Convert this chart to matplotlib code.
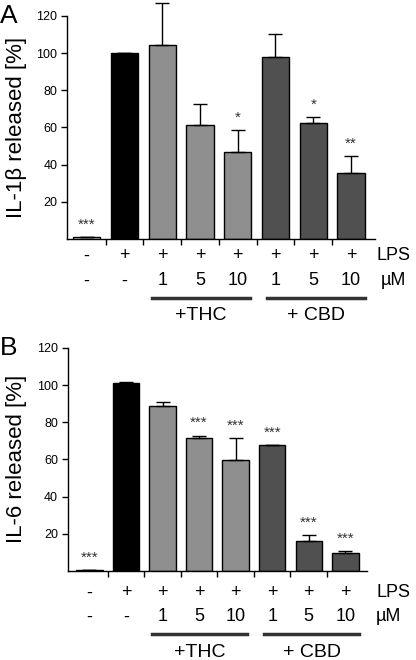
import numpy as np
import matplotlib
matplotlib.use('Agg')
import matplotlib.pyplot as plt

plt.rcParams['font.family'] = ['Liberation Sans', 'DejaVu Sans']

lps_row = ['-', '+', '+', '+', '+', '+', '+', '+']
dose_row = ['-', '-', '1', '5', '10', '1', '5', '10']
colors = ['white', 'black', '#8f8f8f', '#8f8f8f', '#8f8f8f', '#505050', '#505050', '#505050']

il1b_mean = [1, 100, 104.5, 61.5, 46.5, 98, 62.5, 35.5]
il1b_err = [0, 0, 22.5, 11, 12, 12, 3, 9]
il1b_stars = ['***', '', '', '', '*', '', '*', '**']

il6_mean = [0.4, 101, 88.8, 71.3, 59.8, 67.5, 16.3, 9.6]
il6_err = [0, 0.4, 2, 1.5, 11.5, 0.3, 3, 1]
il6_stars = ['***', '', '', '***', '***', '***', '***', '***']

groups = ['+THC', '+ CBD']
group_spans = [(1.72, 4.32), (4.78, 7.38)]

fig = plt.figure(figsize=(4.16, 6.6), dpi=100)


def panel(rect, xlim, means, errs, stars, ylabel, letter, rows_y, unit_x):
    ax = fig.add_axes(rect)
    x = np.arange(len(means))
    ax.bar(x, means, width=0.72, color=colors, edgecolor='black', linewidth=1)
    ax.errorbar(x, means, yerr=[np.zeros(len(errs)), errs], fmt='none',
                ecolor='black', elinewidth=1, capsize=5, capthick=1, clip_on=False)
    for xi, m, e, s in zip(x, means, errs, stars):
        if s:
            ax.text(xi, m + e + 3, s, ha='center', va='bottom', fontsize=11, color='#333333')
    ax.set_xlim(*xlim)
    ax.set_ylim(0, 120)
    ax.set_yticks([20, 40, 60, 80, 100, 120])
    ax.tick_params(axis='y', labelsize=9, length=4, width=1, pad=3)
    ax.set_xticks(x[:-1] + 0.5)
    ax.set_xticklabels([])
    ax.tick_params(axis='x', length=4, width=1, direction='out')
    for side in ['top', 'right']:
        ax.spines[side].set_visible(False)
    ax.spines['left'].set_linewidth(1)
    ax.spines['bottom'].set_linewidth(1)
    ax.set_ylabel(ylabel, fontsize=16, labelpad=7)

    tr = ax.get_xaxis_transform()
    y1, y2, yl, yg = rows_y
    for xi, a, b in zip(x, lps_row, dose_row):
        ax.text(xi, y1, a, transform=tr, ha='center', va='center', fontsize=13)
        ax.text(xi, y2, b, transform=tr, ha='center', va='center', fontsize=13)
    for name, (a, b) in zip(groups, group_spans):
        ax.plot([a, b], [yl, yl], transform=tr, color='#333333', lw=2.5, clip_on=False)
        ax.text((a + b) / 2, yg, name, transform=tr, ha='center', va='center', fontsize=14)
    # row captions at the right edge, placed in figure coordinates
    bot = rect[1]
    h = rect[3]
    fig.text(0.906, bot + y1 * h, 'LPS', ha='left', va='center', fontsize=13)
    fig.text(unit_x, bot + y2 * h, 'µM', ha='left', va='center', fontsize=13)
    fig.text(0.0, bot + h, letter, fontsize=19, ha='left', va='center')
    return ax


panel([0.161, 0.638, 0.740, 0.338], (-0.52, 7.63), il1b_mean, il1b_err, il1b_stars,
      'IL-1β released [%]', 'A', (-0.076, -0.188, -0.265, -0.345), 0.915)
panel([0.163, 0.135, 0.719, 0.338], (-0.59, 7.59), il6_mean, il6_err, il6_stars,
      'IL-6 released [%]', 'B', (-0.099, -0.206, -0.283, -0.368), 0.903)

fig.savefig('out.png', dpi=100)
